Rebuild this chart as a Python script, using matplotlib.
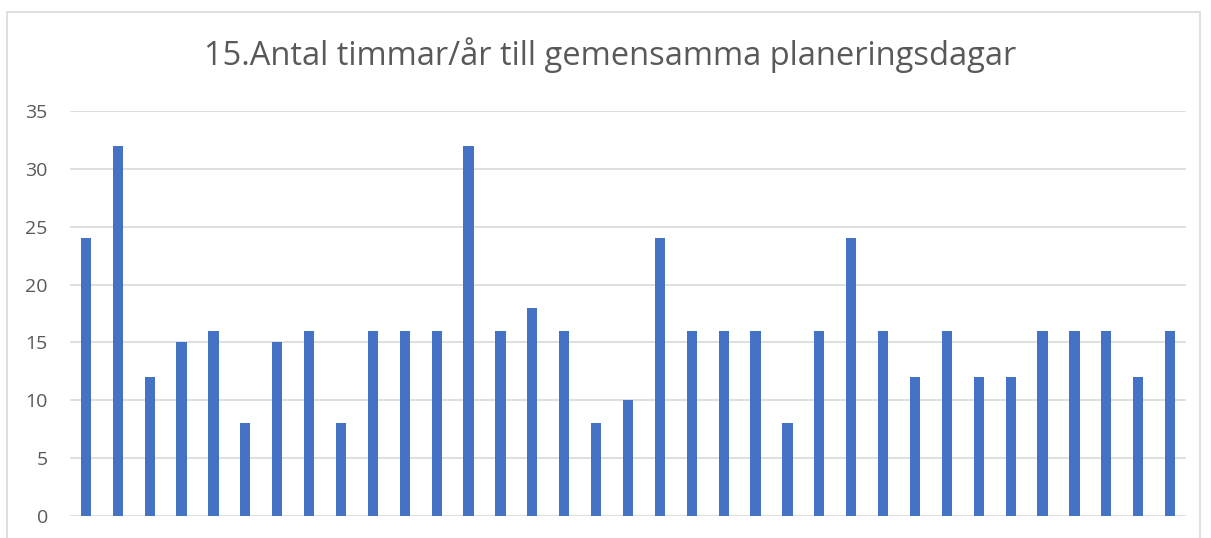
import matplotlib
matplotlib.use("Agg")
import matplotlib.pyplot as plt
from matplotlib.patches import Rectangle

title = "15.Antal timmar/år till gemensamma planeringsdagar"
values = [24, 32, 12, 15, 16, 8, 15, 16, 8, 16, 16, 16, 32, 16, 18, 16, 8, 10,
          24, 16, 16, 16, 8, 16, 24, 16, 12, 16, 12, 12, 16, 16, 16, 12, 16]
yticks = [0, 5, 10, 15, 20, 25, 30, 35]

W, H = 1211, 538
fig = plt.figure(figsize=(W / 100, H / 100), dpi=100)
fig.patch.set_facecolor("white")

# outer chart border
fig.patches.append(Rectangle((7 / W, -0.05), (1200 - 7) / W, 1.05 - 12 / H,
                             transform=fig.transFigure, fill=False,
                             edgecolor="#d9d9d9", linewidth=1.2))

ax = fig.add_axes([70 / W, 1 - 516 / H, (1186 - 70) / W, (516 - 111) / H])
x = list(range(len(values)))
ax.bar(x, values, width=0.32, color="#4472c4", zorder=3)
ax.set_xlim(-0.5, len(values) - 0.5)
ax.set_ylim(0, 35)
ax.set_yticks(yticks)
ax.set_yticklabels([str(t) for t in yticks], fontsize=14, color="#595959",
                   family="Open Sans")
ax.set_xticks([])
ax.tick_params(axis="y", length=0, pad=16)
ax.grid(axis="y", color="#d9d9d9", linewidth=1.2, zorder=0)
for s in ax.spines.values():
    s.set_visible(False)

fig.text(610 / W, 1 - 55 / H, title, ha="center", va="center",
         fontsize=23.5, color="#595959", family="Open Sans")

fig.savefig("out.png", dpi=100)
